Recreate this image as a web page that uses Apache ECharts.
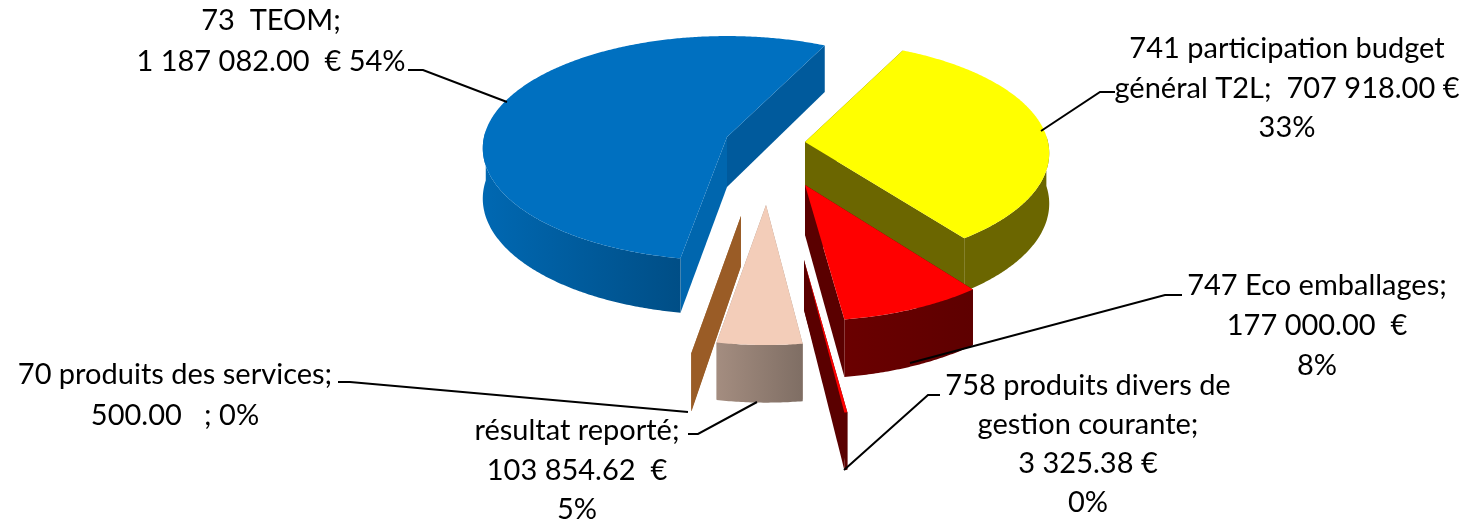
<!DOCTYPE html>
<html>
<head>
<meta charset="utf-8">
<title>Recettes</title>
<style>
html,body{margin:0;padding:0;background:#fff;}
#chart{width:1465px;height:520px;}
</style>
<script src="https://cdn.jsdelivr.net/npm/echarts@6/dist/echarts.min.js"></script>
</head>
<body>
<div id="chart"></div>
<script>
// slices, clockwise from the first slice angle
var categories = ['741 participation budget général T2L', '747 Eco emballages', '758 produits divers de gestion courante', 'résultat reporté', '70 produits des services', '73 TEOM'];
var values = [707918.00, 177000.00, 3325.38, 103854.62, 500.00, 1187082.00];
var labelLines = [
	['741 participation budget', 'général T2L;  707 918.00 €', '33%'],
	['747 Eco emballages;', '177 000.00  €', '8%'],
	['758 produits divers de', 'gestion courante;', '3 325.38 €', '0%'],
	['résultat reporté;', '103 854.62  €', '5%'],
	['70 produits des services;', '500.00   ; 0%'],
	['73  TEOM;', '1 187 082.00  € 54%']
];

// layout, separate from the data
var center = [765, 145];
var explode = [[40, -3], [40, 40], [39, 115], [1, 60], [-24, 71], [-38, -8]];
var drawOrder = [1, 2, 3, 5, 4, 0]; // z order of each slice
var sliceTilt = [0.457, 0.47, 0.484, 0.484, 0.484, 0.457];
var slicePersp = [0.1, 0.16, 0.16, 0.16, 0.16, 0.1];
var sliceScale = [1, 1, 1.1, 1, 1, 1];
var topColors = ['#FFFF00', '#FF0000', '#FF0000', '#F3CDB9', '#9A5C26', '#0070C0'];
var arcColors = [['#6B6600', '#6B6600'], ['#6A0000', '#5E0000'], ['#5A0000', '#5A0000'], ['#A48D80', '#7F6E64'], ['#9A5C26', '#9A5C26'], ['#0068B2', '#004E86']];
var faceColors = [['#6B6600', '#6B6600'], ['#5A0000', '#5A0000'], ['#5A0000', '#5A0000'], ['#A48D80', '#A48D80'], ['#9A5C26', '#9A5C26'], ['#0066AE', '#005A9C']];
var labelCenters = [[1287, 49], [1317, 286], [1088, 386], [577, 431], [175, 375], [271, 21]];
var labelStep = [39.5, 40, 39, 39.5, 41, 41];
var leaders = [
	[[1115, 92], [1100, 92], [1041, 131]],
	[[1182, 295], [1165, 295], [910, 363]],
	[[940, 395], [928, 395], [844, 470]],
	[[688, 434], [698, 434], [757, 402]],
	[[338, 382], [350, 382], [688, 412]],
	[[408, 70], [423, 70], [507, 102]]
];

var firstAngle = 26;
var radius = 243;
var depth = 50;

var total = 0;
for (var n = 0; n < values.length; n++) {
	total += values[n];
}

function project(deg, apex, r, i) {
	var rad = deg * Math.PI / 180;
	var u = Math.sin(rad) * r;
	var v = -Math.cos(rad) * r;
	var s = 1 / (1 - slicePersp[i] * v);
	var size = radius * sliceScale[i];
	return {
		x: apex[0] + size * u * s,
		y: apex[1] + size * sliceTilt[i] * v * s,
		h: depth * (1 + (s - 1) * 0.8),
		v: v
	};
}

function wallPoly(a, b) {
	return [[a.x, a.y], [b.x, b.y], [b.x, b.y + b.h], [a.x, a.y + a.h]];
}

function renderSlice(params, api) {
	var i = params.dataIndex;
	var start = firstAngle;
	for (var k = 0; k < i; k++) {
		start += values[k] / total * 360;
	}
	var end = start + api.value(0) / total * 360;
	var apex = [center[0] + explode[i][0], center[1] + explode[i][1]];
	var z = drawOrder[i] * 10;
	var mid = project(0, apex, 0, i);

	var topPts = [[mid.x, mid.y]];
	var arcTop = [];
	var arcBottom = [];
	var steps = Math.max(2, Math.ceil((end - start) * 2));
	for (var j = 0; j <= steps; j++) {
		var p = project(start + (end - start) * j / steps, apex, 1, i);
		topPts.push([p.x, p.y]);
		if (p.v > -0.06) {
			arcTop.push([p.x, p.y]);
			arcBottom.unshift([p.x, p.y + p.h]);
		}
	}
	var pStart = project(start, apex, 1, i);
	var pEnd = project(end, apex, 1, i);
	var children = [
		{
			type: 'polygon', z2: z,
			shape: {points: wallPoly(pEnd, mid)},
			style: {fill: faceColors[i][1]}
		},
		{
			type: 'polygon', z2: z + 1,
			shape: {points: wallPoly(pStart, mid)},
			style: {fill: faceColors[i][0]}
		}
	];
	if (arcTop.length > 1) {
		children.push({
			type: 'polygon', z2: z + 2,
			shape: {points: arcTop.concat(arcBottom)},
			style: {
				fill: new echarts.graphic.LinearGradient(0, 0, 1, 0, [
					{offset: 0, color: arcColors[i][0]},
					{offset: 1, color: arcColors[i][1]}
				])
			}
		});
	}
	children.push({
		type: 'polygon', z2: z + 3,
		shape: {points: topPts},
		style: {fill: topColors[i]}
	});
	return {type: 'group', children: children};
}

var graphics = [];
for (var a = 0; a < labelLines.length; a++) {
	for (var b = 0; b < labelLines[a].length; b++) {
		graphics.push({
			type: 'text',
			x: labelCenters[a][0],
			y: labelCenters[a][1] + b * labelStep[a],
			z: 10,
			style: {
				text: labelLines[a][b],
				fontFamily: 'Lato',
				fontSize: 29,
				fill: '#000',
				textAlign: 'center',
				textVerticalAlign: 'middle'
			}
		});
	}
	graphics.push({
		type: 'polyline',
		z: 10,
		shape: {points: leaders[a]},
		style: {stroke: '#000', lineWidth: 2, fill: null}
	});
}

var myChart = echarts.init(document.getElementById('chart'), null, {renderer: 'canvas'});
var seriesData = [];
for (var d = 0; d < values.length; d++) {
	seriesData.push({name: categories[d], value: [values[d]]});
}
myChart.setOption({
	animation: false,
	backgroundColor: '#fff',
	graphic: graphics,
	series: [{
		type: 'custom',
		coordinateSystem: 'none',
		silent: true,
		renderItem: renderSlice,
		data: seriesData
	}]
});
</script>
</body>
</html>
